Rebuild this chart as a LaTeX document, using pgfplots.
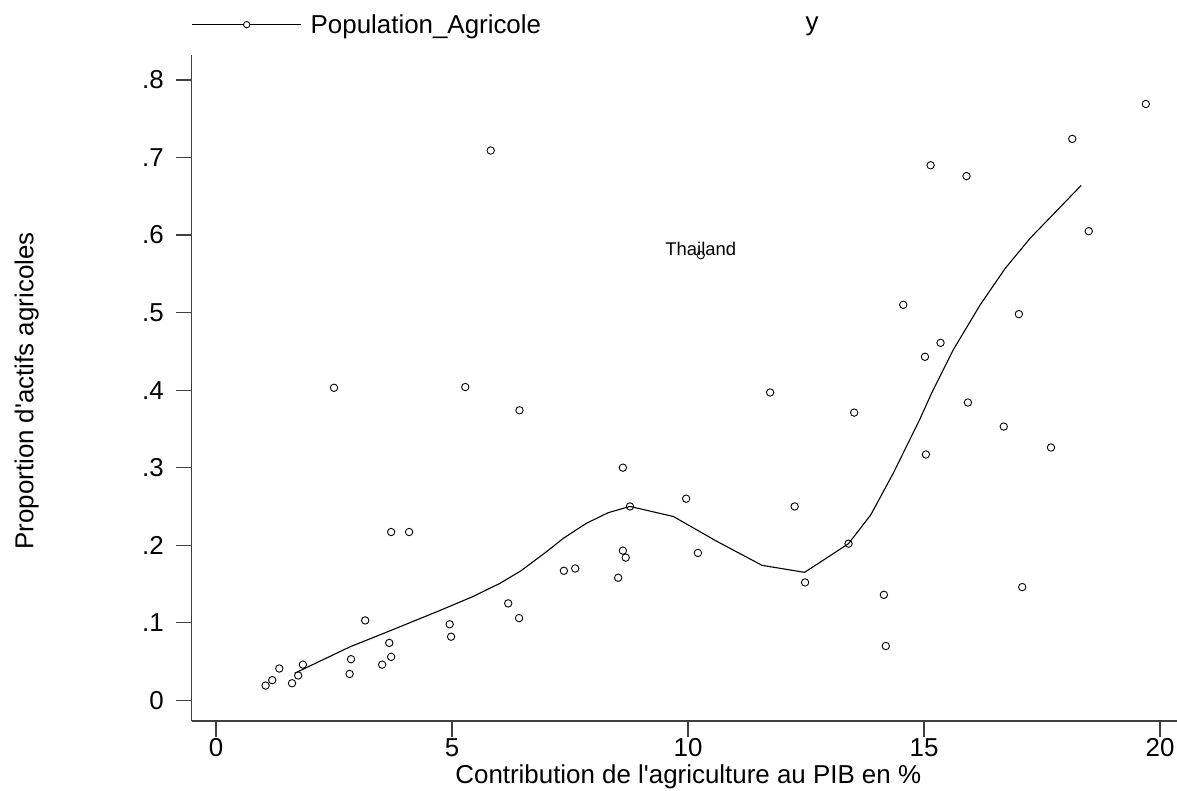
\documentclass[border=0pt]{standalone}
\usepackage{fontspec}
\setmainfont{Liberation Sans}
\usepackage{pgfplots}
\pgfplotsset{compat=1.18}
\begin{document}
\begin{tikzpicture}
\path[use as bounding box] (0bp,0bp) rectangle (1177bp,791bp);
\begin{axis}[
  at={(191.5bp,70bp)}, anchor=south west,
  scale only axis, width=985.5bp, height=666bp,
  xmin=-0.52, xmax=20.36, ymin=-0.0267, ymax=0.8322,
  axis x line*=bottom, axis y line*=left,
  axis line style={black!75, line width=1.1bp, -},
  xtick={0,5,10,15,20}, xticklabels={0,5,10,15,20},
  ytick={0,0.1,0.2,0.3,0.4,0.5,0.6,0.7,0.8},
  yticklabels={0,.1,.2,.3,.4,.5,.6,.7,.8},
  tick align=outside, major tick length=15.5bp,
  tick style={black!75, line width=1.1bp},
  ticklabel style={font=\fontsize{26}{30}\selectfont},
  xticklabel style={inner sep=1.5bp},
  yticklabel style={inner sep=2bp, xshift=-10bp},
  xlabel={Contribution de l\textquotesingle agriculture au PIB en \%},
  ylabel={Proportion d\textquotesingle actifs agricoles},
  label style={font=\fontsize{26}{30}\selectfont, inner sep=0pt},
  xlabel style={at={(axis description cs:0.5,0)}, anchor=base, yshift=-62bp, xshift=4bp},
  ylabel style={at={(axis description cs:0,0.5)}, anchor=base, yshift=158bp, xshift=-3bp},
  legend columns=2,
  legend style={at={(axis description cs:0,1)}, anchor=south west, yshift=20bp,
    draw=none, fill=none, inner sep=0pt,
    nodes={inner sep=0pt, font=\fontsize{26}{30}\selectfont},
    /tikz/every odd column/.append style={column sep=9bp},
    /tikz/every even column/.append style={column sep=146bp}},
  legend cell align=left,
]
\addlegendimage{legend image code/.code={\draw[black, line width=1bp] (0bp,0bp) -- (109bp,0bp); \draw[black, line width=0.9bp, fill=white] (54.5bp,0bp) circle (3.2bp);}}
\addlegendentry{Population\_Agricole}
\addlegendimage{legend image code/.code={\path (0bp,0bp) (109bp,0bp);}}
\addlegendentry{y}

\addplot[only marks, mark=o, mark size=3.7bp, mark options={black, line width=0.9bp}, forget plot] table {
x y
1.05 0.019
1.19 0.026
1.34 0.041
1.61 0.022
1.74 0.032
1.84 0.046
2.50 0.403
2.83 0.034
2.86 0.053
3.16 0.103
3.52 0.046
3.67 0.074
3.71 0.056
3.71 0.217
4.09 0.217
4.95 0.098
4.98 0.082
5.28 0.404
5.82 0.709
6.19 0.125
6.42 0.106
6.43 0.374
7.37 0.167
7.61 0.170
8.52 0.158
8.62 0.300
8.62 0.193
8.68 0.184
8.77 0.250
9.96 0.260
10.21 0.190
10.27 0.574
11.74 0.397
12.26 0.250
12.48 0.152
13.40 0.202
13.52 0.371
14.15 0.136
14.19 0.070
14.56 0.510
15.02 0.443
15.04 0.317
15.14 0.690
15.35 0.461
15.90 0.676
15.93 0.384
16.69 0.353
17.01 0.498
17.08 0.146
17.69 0.326
18.14 0.724
18.49 0.605
19.70 0.769
};

\addplot[black, line width=1.1bp, no marks, forget plot] table {
x y
1.67 0.035
2.84 0.069
3.62 0.088
4.75 0.116
5.45 0.134
6.02 0.151
6.46 0.167
7.01 0.192
7.36 0.209
7.84 0.228
8.31 0.242
8.77 0.250
9.69 0.237
10.61 0.205
11.57 0.174
12.47 0.165
13.40 0.202
13.87 0.239
14.35 0.293
14.90 0.361
15.16 0.396
15.62 0.452
16.19 0.510
16.72 0.557
17.25 0.596
18.33 0.664
};

\node[anchor=base, inner sep=0pt, font=\fontsize{18.5}{20}\selectfont] at (axis cs:10.27,0.574) {Thailand};
\end{axis}
\end{tikzpicture}
\end{document}
